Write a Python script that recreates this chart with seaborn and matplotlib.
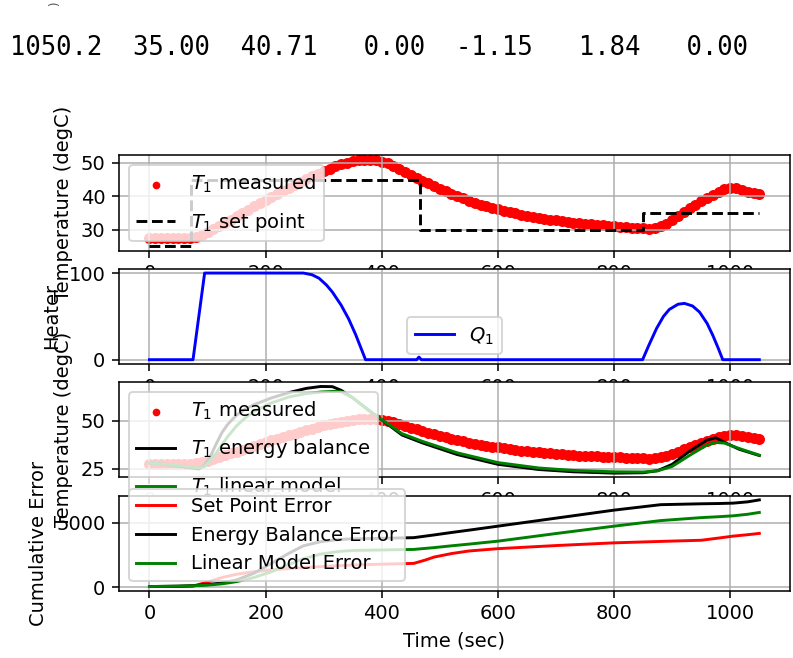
import numpy as np
import matplotlib
matplotlib.use('Agg')
import matplotlib.pyplot as plt
import seaborn as sns

# last printed row of the run log
last_row = [1050.2, 35.00, 40.71, 0.00, -1.15, 1.84, 0.00]

# measured temperature, one reading every 10 s
time_meas = np.arange(0, 1051, 10)
T1_meas = [27.5, 27.4, 27.4, 27.4, 27.4, 27.4, 27.5, 27.6, 27.9, 28.5,
           29.3, 30.2, 31.1, 32.0, 33.0, 34.0, 35.0, 36.0, 37.0, 38.0,
           38.9, 39.8, 40.7, 41.6, 42.5, 43.4, 44.3, 45.2, 46.0, 46.8,
           47.6, 48.3, 49.0, 49.6, 50.1, 50.5, 50.8, 51.0, 51.0, 50.8,
           50.4, 49.9, 49.2, 48.3, 47.4, 46.5, 45.6, 44.7, 43.9, 43.1,
           42.3, 41.5, 40.8, 40.1, 39.4, 38.7, 38.1, 37.5, 37.0, 36.5,
           36.1, 35.7, 35.3, 34.9, 34.5, 34.1, 33.8, 33.5, 33.2, 33.0,
           32.8, 32.5, 32.3, 32.1, 31.9, 31.7, 31.6, 31.4, 31.3, 31.1,
           31.0, 30.9, 30.7, 30.6, 30.5, 30.4, 30.3, 30.5, 31.0, 31.8,
           32.8, 34.0, 35.2, 36.4, 37.5, 38.5, 39.5, 40.5, 41.4, 42.1,
           42.5, 42.4, 41.9, 41.4, 41.1, 40.7]

# set point changes
sp_time = [0, 72, 465, 850, 1050]
T1_sp = [25, 45, 30, 35, 35]

# heater output
q_time = [0, 75, 95, 265, 280, 292, 305, 315, 330, 343, 355, 365, 372, 460, 464, 468,
          849, 860, 873, 885, 895, 910, 921, 935, 947, 960, 970, 980, 987, 1050]
Q1 = [0, 0, 100, 100, 98, 94, 86, 78, 63, 47, 29, 12, 0, 0, 3, 0,
      0, 17, 36, 50, 58, 64, 65, 62, 55, 42, 28, 12, 0, 0]

# model predictions
model_time = [0, 25, 50, 75, 85, 95, 105, 115, 125, 135, 150, 165, 180, 210, 240, 270,
              295, 315, 330, 350, 380, 405, 435, 470, 530, 600, 670, 730, 800, 850,
              875, 900, 930, 960, 975, 990, 1015, 1050]
T1_energy = [28.0, 27.3, 26.3, 25.3, 24.8, 27.0, 31.5, 38.0, 44.0, 48.3, 53.0, 56.2, 58.5, 62.0, 64.8, 67.0,
             68.0, 67.9, 66.0, 62.1, 55.0, 49.4, 42.6, 38.5, 32.4, 27.3, 24.6, 23.4, 22.7, 22.9,
             24.0, 27.3, 34.2, 40.0, 41.2, 38.8, 35.2, 31.9]
T1_linear = [28.0, 27.4, 26.6, 25.8, 25.3, 26.2, 29.2, 33.2, 37.6, 41.9, 47.4, 51.6, 55.0, 59.4, 62.5, 64.3,
             65.1, 65.4, 65.3, 62.0, 54.8, 49.6, 43.3, 39.3, 33.3, 28.2, 25.4, 24.1, 23.4, 23.3,
             23.9, 26.2, 32.0, 37.4, 38.7, 38.4, 35.6, 32.1]

# cumulative errors
err_time = [0, 50, 75, 100, 125, 150, 180, 210, 240, 265, 295, 325, 350, 400, 455, 475,
            490, 520, 550, 600, 700, 800, 880, 950, 980, 1005, 1030, 1050]
err_sp = [50, 60, 80, 400, 750, 1000, 1200, 1340, 1440, 1510, 1590, 1660, 1710, 1780, 1840, 2100,
          2330, 2600, 2800, 2980, 3220, 3430, 3540, 3630, 3800, 3950, 4060, 4160]
err_energy = [50, 80, 120, 200, 330, 560, 1080, 1850, 2620, 3200, 3520, 3680, 3740, 3780, 3830, 3950,
              4040, 4230, 4410, 4720, 5340, 5960, 6380, 6450, 6470, 6500, 6600, 6750]
err_linear = [50, 80, 110, 160, 260, 430, 750, 1200, 1750, 2200, 2560, 2760, 2840, 2880, 2920, 3000,
              3060, 3200, 3330, 3560, 4150, 4720, 5150, 5380, 5450, 5520, 5640, 5780]

fig, (ax1, ax2, ax3, ax4) = plt.subplots(4, 1, figsize=(793 / 140, 658 / 140), dpi=140)
fig.subplots_adjust(left=0.150, right=0.996, top=0.764, bottom=0.102, hspace=0.19)

fig.text(10 / 793, 1 - 48 / 658,
         '{:6.1f} {:6.2f} {:6.2f} {:6.2f} {:6.2f} {:6.2f} {:6.2f}'.format(*last_row),
         family='DejaVu Sans Mono', fontsize=13.2, va='center')
fig.text(55 / 793, 1 - 4 / 658, ')', rotation=90, fontsize=6, color='0.3',
         ha='center', va='center')

# temperature vs set point
sns.scatterplot(x=time_meas, y=T1_meas, color='red', s=32, linewidth=0,
                label=r'$T_1$ measured', ax=ax1)
sns.lineplot(x=sp_time, y=T1_sp, color='k', linestyle='--', drawstyle='steps-post',
             label=r'$T_1$ set point', ax=ax1)
ax1.set_yticks([30, 40, 50])
ax1.set_ylabel('Temperature (degC)')
ax1.legend(loc='upper left', labelspacing=0.8, markerscale=0.7)
ax1.grid(True)

# heater
sns.lineplot(x=q_time, y=Q1, color='b', label=r'$Q_1$', ax=ax2)
ax2.set_yticks([0, 100])
ax2.set_ylabel('Heater')
ax2.legend(loc='lower center')
ax2.grid(True)

# model comparison
sns.scatterplot(x=time_meas, y=T1_meas, color='red', s=32, linewidth=0,
                label=r'$T_1$ measured', ax=ax3)
sns.lineplot(x=model_time, y=T1_energy, color='k', label=r'$T_1$ energy balance', ax=ax3)
sns.lineplot(x=model_time, y=T1_linear, color='g', label=r'$T_1$ linear model', ax=ax3)
ax3.set_yticks([25, 50])
ax3.set_ylabel('Temperature (degC)')
ax3.legend(loc='upper left', labelspacing=0.8, markerscale=0.7)
ax3.grid(True)

# cumulative errors
sns.lineplot(x=err_time, y=err_sp, color='r', label='Set Point Error', ax=ax4)
sns.lineplot(x=err_time, y=err_energy, color='k', label='Energy Balance Error', ax=ax4)
sns.lineplot(x=err_time, y=err_linear, color='g', label='Linear Model Error', ax=ax4)
ax4.set_yticks([0, 5000])
ax4.set_ylabel('Cumulative Error')
ax4.set_xlabel('Time (sec)')
ax4.legend(loc='lower left')
ax4.grid(True)

fig.savefig('out.png', dpi=140)
